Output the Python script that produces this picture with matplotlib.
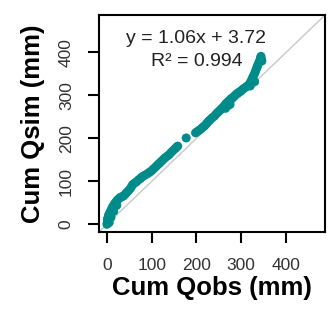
import matplotlib
matplotlib.use("Agg")
import matplotlib.pyplot as plt

obs = [0, 1, 2, 1, 2, 3, 4, 6, 8, 10, 12, 14, 17, 20, 23, 26, 29, 33, 37, 41, 44, 48, 52, 55, 58,
       62, 66, 70, 74, 77, 81, 86, 91, 95, 99, 103, 107, 111, 115, 118, 122, 126, 130, 135, 140,
       144, 148, 152, 155, 158, 177, 198, 202, 206, 210, 214, 218, 222, 226, 230, 235, 240, 244,
       248, 252, 256, 258, 262, 266, 270, 274, 278, 281, 285, 289, 293, 296, 299, 303, 307, 311,
       315, 318, 321, 324, 326, 329, 331, 333, 335, 336, 338, 340, 342, 343, 344, 345, 346,
       265, 270, 275, 320, 325, 330, 5, 9, 15, 22]
sim = [0, 3, 6, 10, 14, 18, 22, 26, 30, 35, 39, 43, 48, 52, 56, 59, 62, 64, 66, 70, 74, 78, 83, 88, 93,
       96, 99, 103, 106, 109, 112, 115, 118, 121, 124, 128, 132, 136, 140, 143, 147, 151, 155, 159, 163,
       168, 172, 176, 179, 182, 201, 213, 216, 219, 222, 226, 229, 234, 239, 243, 248, 252, 257,
       261, 265, 269, 271, 276, 281, 285, 289, 293, 295, 299, 303, 306, 308, 310, 314, 317, 320,
       323, 326, 332, 338, 343, 349, 354, 360, 365, 368, 373, 378, 383, 387, 391, 385, 380,
       270, 276, 279, 322, 330, 332, 4, 16, 30, 44]

ticks = [0, 100, 200, 300, 400]
lims = (-18, 487)
eq_text = "y = 1.06x + 3.72"
r2_text = "R\u00b2 = 0.994"

plt.rcParams['font.family'] = ['Liberation Sans', 'DejaVu Sans']

fig = plt.figure(figsize=(3.34, 3.14), dpi=100)
ax = fig.add_axes([0.296, 0.261, 0.677, 0.691])

ax.axline((0, 0), slope=1, color='#c8c8c8', lw=1.0, zorder=1)
ax.scatter(obs, sim, s=42, color='#008b8b', edgecolors='none', zorder=2)

ax.set_xlim(lims)
ax.set_ylim(lims)
ax.set_xticks(ticks)
ax.set_yticks(ticks)
ax.set_xticklabels([str(t) for t in ticks], fontsize=12.5, color='#333333')
ax.set_yticklabels([str(t) for t in ticks], fontsize=12.5, color='#333333', rotation=90, va='center')
ax.tick_params(direction='out', length=8, width=1.5, pad=10)
ax.tick_params(axis='x', pad=11)
for s in ax.spines.values():
    s.set_linewidth(1.5)

ax.text(200, 432, eq_text, ha='center', va='center', fontsize=14, color='#222222')
ax.text(200, 379, r2_text, ha='center', va='center', fontsize=14, color='#222222')

ax.set_xlabel("Cum Qobs (mm)", fontsize=18.5, fontweight='bold', labelpad=2)
ax.set_ylabel("Cum Qsim (mm)", fontsize=18.5, fontweight='bold', labelpad=10)

fig.savefig("out.png", dpi=100)
